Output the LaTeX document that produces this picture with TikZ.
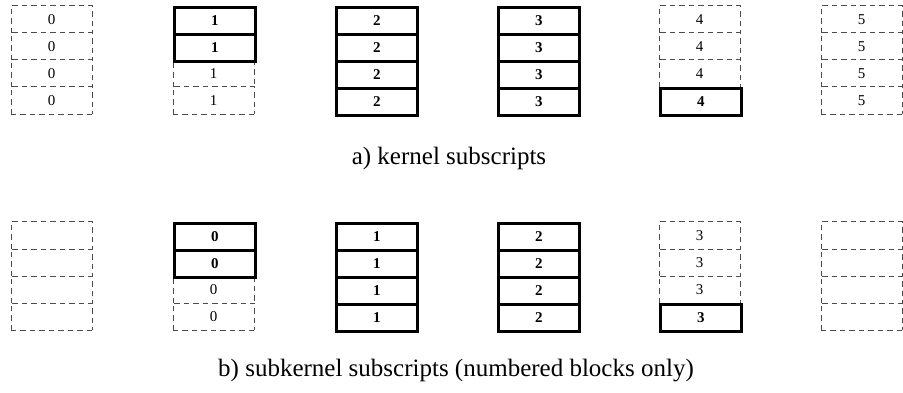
\documentclass[tikz,border=0pt]{standalone}
\usepackage{fontspec}
\setmainfont{Liberation Serif}
\begin{document}
\begin{tikzpicture}[x=1pt,y=1pt,
  cell/.style={minimum width=81pt,minimum height=27pt,inner sep=0pt,
    anchor=north west,font=\fontsize{15}{15}\selectfont},
  ghost/.style={cell},
  ghostline/.style={draw=black!70,line width=1pt,dash pattern=on 5.5pt off 4pt},
  held/.style={cell,draw=black,line width=2.6pt,font=\fontsize{15}{15}\selectfont\bfseries},
  caption/.style={font=\fontsize{25}{25}\selectfont,inner sep=0pt}]
\useasboundingbox (0,0) rectangle (903,-393);
% columns: index / first bold row / last bold row / label a / label b
% pass 0 draws the dashed cells, pass 1 the bold ones on top
\foreach \pass in {0,1}{
  \foreach \c/\lo/\hi/\ta/\tb in {0/4/-1/0/{},1/0/1/1/0,2/0/3/2/1,3/0/3/3/2,4/3/3/4/3,5/4/-1/5/{}}{
    \foreach \r in {0,...,3}{
      \pgfmathtruncatemacro\isbold{(\r>=\lo)&&(\r<=\hi)}
      \pgfmathtruncatemacro\abovebold{(\r-1>=\lo)&&(\r-1<=\hi)}
      \ifnum\isbold=\pass
        \ifnum\pass=1
          \node[held] (a-\c-\r) at (11+162*\c, -6-27*\r) {\ta};
          \node[held] (b-\c-\r) at (11+162*\c, -222-27*\r) {\tb};
        \else
          \node[ghost] (a-\c-\r) at (11+162*\c, -6-27*\r) {\ta};
          \node[ghost] (b-\c-\r) at (11+162*\c, -222-27*\r) {\tb};
          % dashed outline: left, top and right; the bottom only closes the stack
          \foreach \g in {a,b}{
            \ifnum\abovebold=1
              \draw[ghostline] (\g-\c-\r.south west) -- (\g-\c-\r.north west);
              \draw[ghostline] (\g-\c-\r.north east) -- (\g-\c-\r.south east);
            \else
              \draw[ghostline] (\g-\c-\r.south west) -- (\g-\c-\r.north west)
                -- (\g-\c-\r.north east) -- (\g-\c-\r.south east);
            \fi
            \ifnum\r=3
              \draw[ghostline] (\g-\c-\r.south east) -- (\g-\c-\r.south west);
            \fi
          }
        \fi
      \fi
    }
  }
}
\node[caption] (capa) at (449,-158) {a) kernel subscripts};
\node[caption] (capb) at (456,-371) {b) subkernel subscripts (numbered blocks only)};
\end{tikzpicture}
\end{document}
